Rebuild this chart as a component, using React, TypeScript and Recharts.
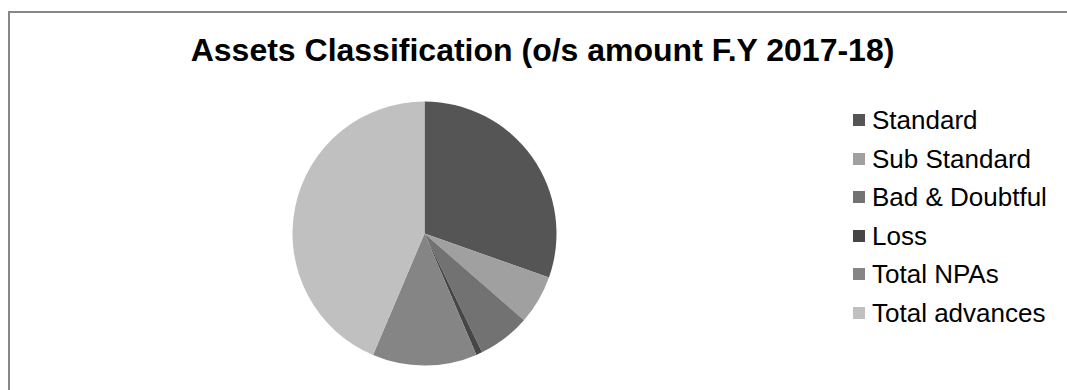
import React from 'react';
import { PieChart, Pie, Cell } from 'recharts';

// o/s amount share (percent of the whole pie)
const categories = ['Standard', 'Sub Standard', 'Bad & Doubtful', 'Loss', 'Total NPAs', 'Total advances'];
const amounts = [30.4, 6.0, 6.4, 0.75, 12.8, 43.6];
const colors = ['#555555', '#a0a0a0', '#727272', '#464646', '#858585', '#c0c0c0'];

const data = categories.map((name, i) => ({ name, value: amounts[i] }));

const FONT = '"Liberation Sans", Arial, sans-serif';

const LegendList = () => (
  <div style={{ fontFamily: FONT }}>
    {categories.map((name, i) => (
      <div key={name} style={{ display: 'flex', alignItems: 'center', height: 38.5 }}>
        <span
          style={{
            display: 'inline-block',
            width: 12,
            height: 12,
            background: colors[i],
            marginRight: 7
          }}
        />
        <span style={{ fontSize: 26, color: '#000', lineHeight: '26px' }}>{name}</span>
      </div>
    ))}
  </div>
);

const App: React.FC = () => {
  return (
    <div style={{ position: 'absolute', left: 0, top: 0, width: 1067, height: 390, overflow: 'hidden', background: '#fff' }}>
      <div
        style={{
          position: 'absolute',
          left: 8,
          top: 11,
          width: 1100,
          height: 420,
          border: '2px solid #878787',
          boxSizing: 'border-box'
        }}
      />
      <div
        style={{
          position: 'absolute',
          left: 0,
          top: 32,
          width: 1085,
          textAlign: 'center',
          fontFamily: FONT,
          fontWeight: 'bold',
          fontSize: 32,
          lineHeight: '36px',
          color: '#000'
        }}
      >
        Assets Classification (o/s amount F.Y 2017-18)
      </div>
      <div style={{ position: 'absolute', left: 0, top: 0 }}>
        <PieChart width={1067} height={390} margin={{ top: 0, right: 0, bottom: 0, left: 0 }}>
          <Pie
            data={data}
            dataKey="value"
            nameKey="name"
            cx={424.5}
            cy={233.5}
            outerRadius={132}
            startAngle={90}
            endAngle={-270}
            stroke="none"
            isAnimationActive={false}
          >
            {data.map((d, i) => (
              <Cell key={d.name} fill={colors[i]} />
            ))}
          </Pie>
        </PieChart>
      </div>
      <div style={{ position: 'absolute', left: 853, top: 101, width: 214 }}>
        <LegendList />
      </div>
    </div>
  );
};

export default App;
